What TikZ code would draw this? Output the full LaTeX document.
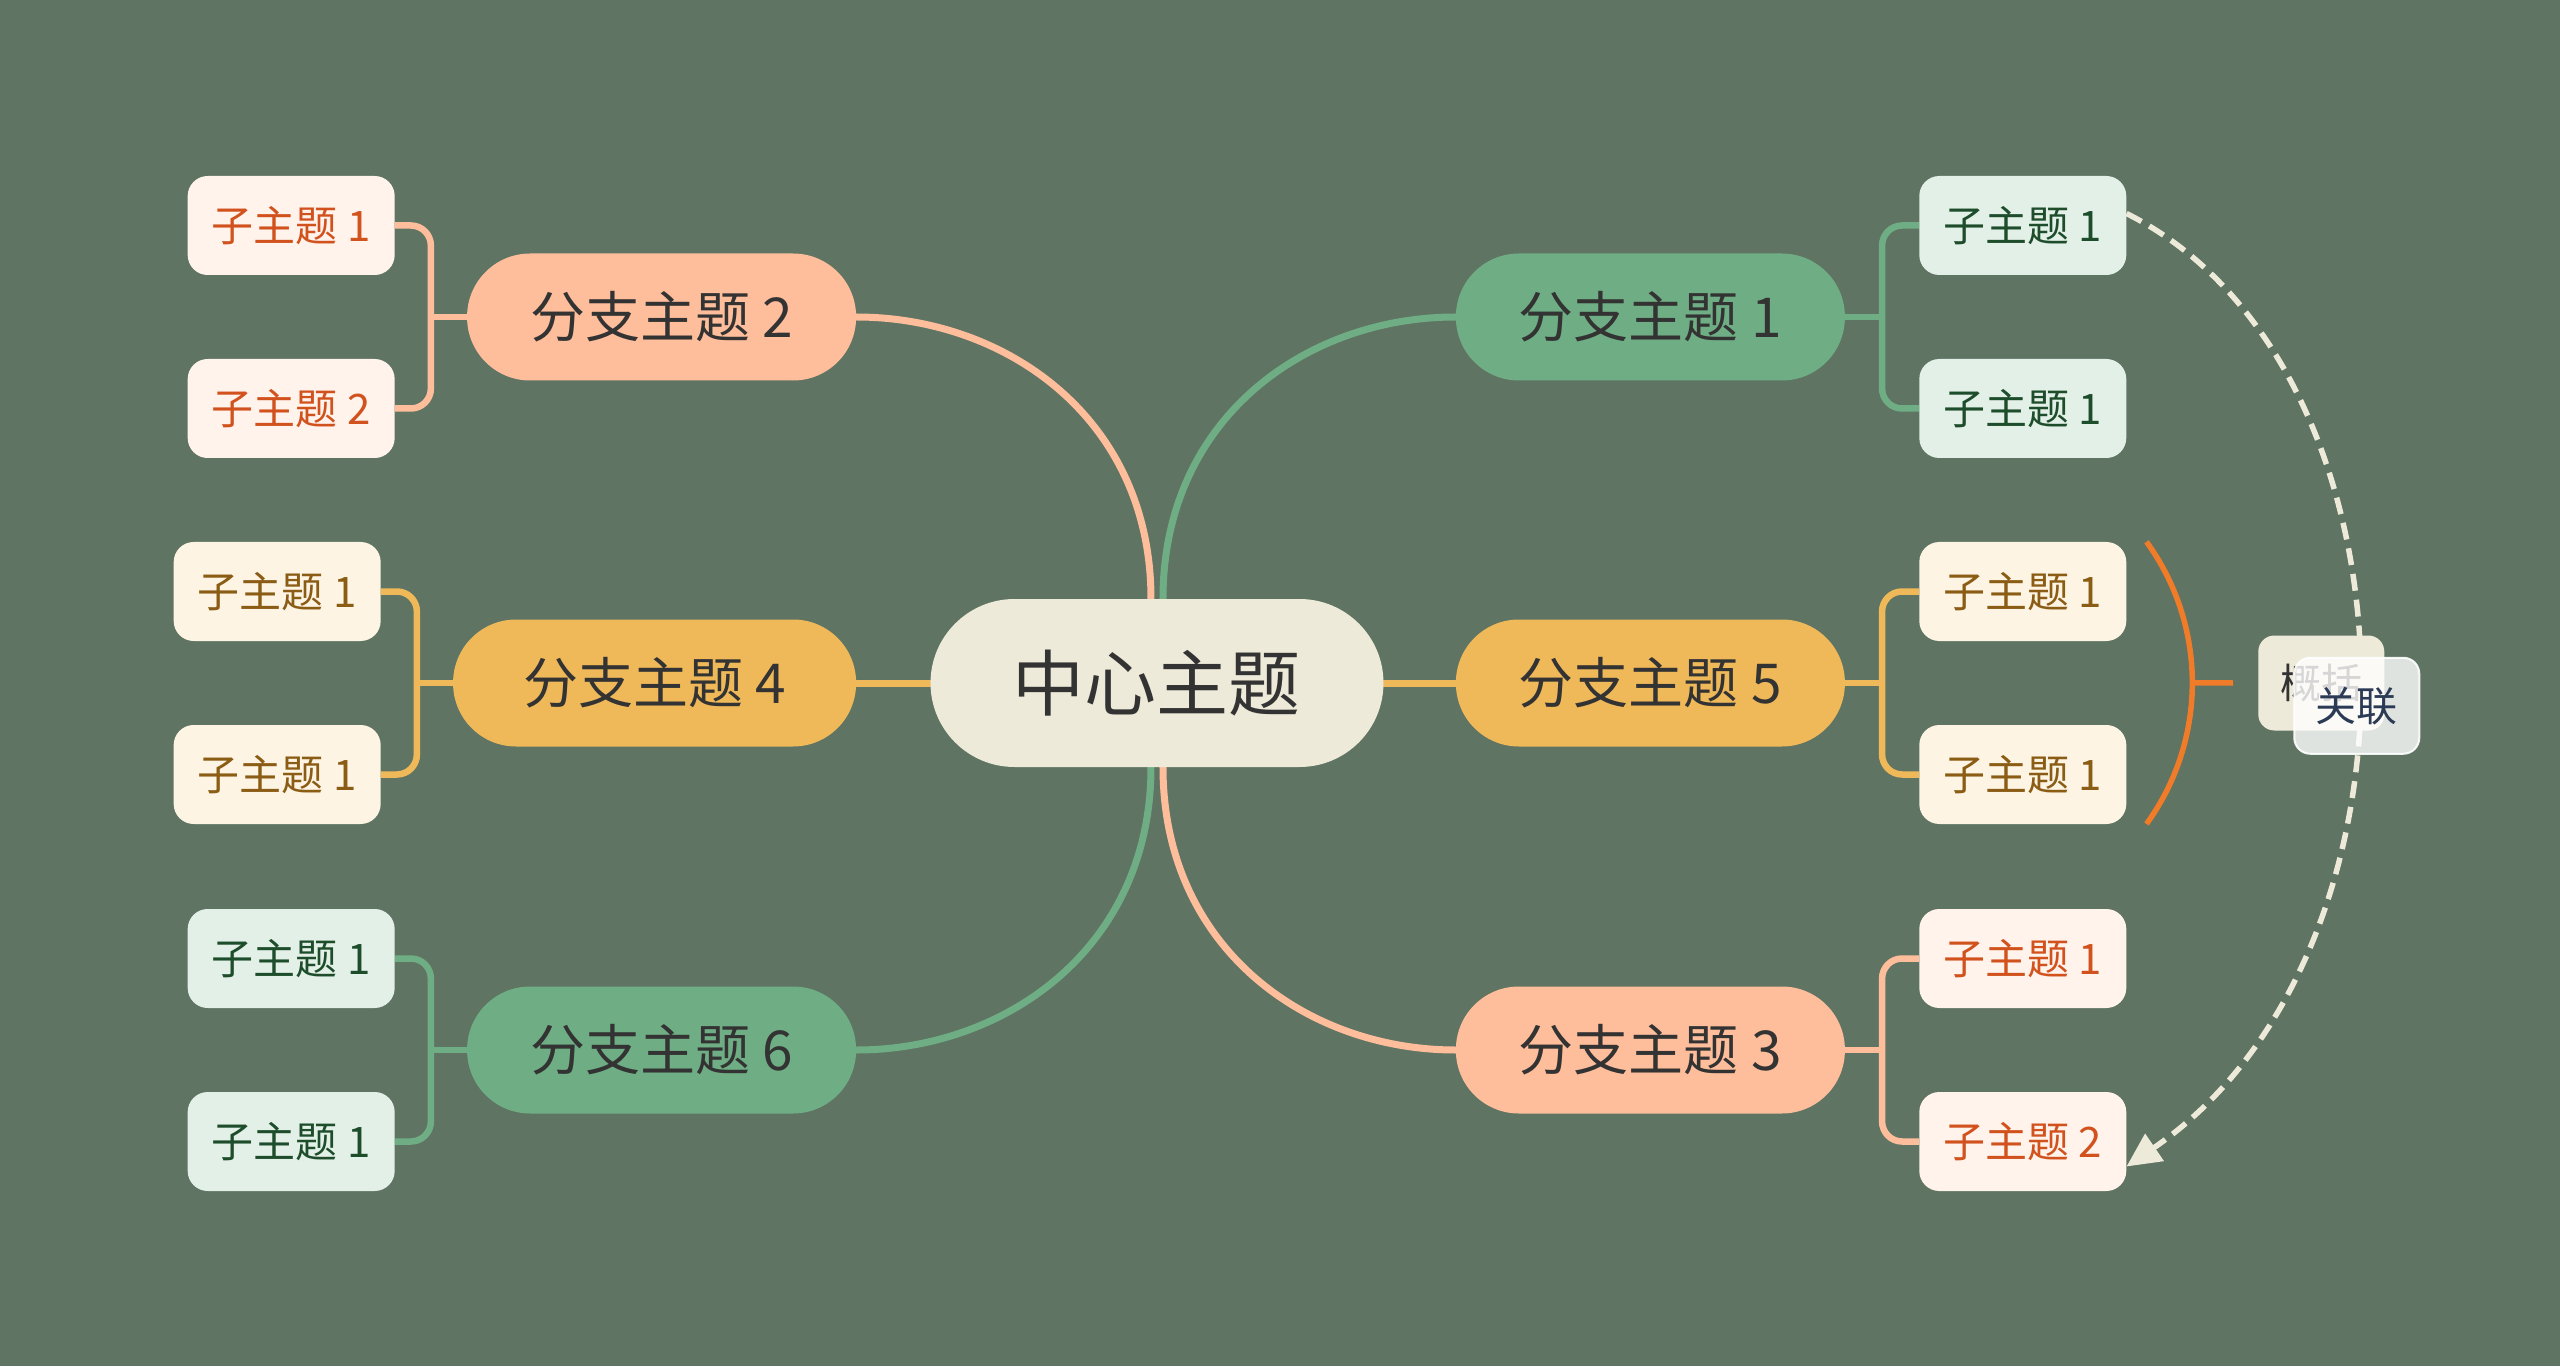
\documentclass[tikz,border=0pt]{standalone}
\usepackage{fontspec}
\setmainfont{Noto Sans CJK SC}
\usepackage{tikz}
\usetikzlibrary{arrows.meta,calc,positioning,backgrounds}
\definecolor{Board}{HTML}{5F7462}
\definecolor{Cream}{HTML}{EEEAD9}
\definecolor{Ink}{HTML}{333333}
\definecolor{Sage}{HTML}{6FAE84}
\definecolor{Peach}{HTML}{FFBE9B}
\definecolor{Amber}{HTML}{EFB95A}
\definecolor{SageLt}{HTML}{E3F0E7}
\definecolor{PeachLt}{HTML}{FFF3EC}
\definecolor{AmberLt}{HTML}{FDF4E4}
\definecolor{SageTx}{HTML}{1E4D2B}
\definecolor{PeachTx}{HTML}{D2521E}
\definecolor{AmberTx}{HTML}{8A5C14}
\definecolor{Flame}{HTML}{F07B28}
\definecolor{Navy}{HTML}{2B3A55}

\begin{document}
\begin{tikzpicture}[
    x=1pt, y=1pt,
    hub/.style={
      fill=Cream, text=Ink, rounded corners=84pt,
      minimum width=453pt, minimum height=168pt, inner sep=0pt,
      font=\fontsize{72}{80}\selectfont
    },
    branch/.style={
      text=Ink, rounded corners=63pt,
      minimum width=389pt, minimum height=127pt, inner sep=0pt,
      font=\fontsize{55}{62}\selectfont
    },
    leaf/.style={
      rounded corners=20pt,
      minimum width=207pt, minimum height=99pt, inner sep=0pt,
      font=\fontsize{42}{48}\selectfont
    },
    sageleaf/.style={leaf, fill=SageLt, text=SageTx},
    peachleaf/.style={leaf, fill=PeachLt, text=PeachTx},
    amberleaf/.style={leaf, fill=AmberLt, text=AmberTx},
    gkbox/.style={
      fill=Cream, text=Ink, rounded corners=16pt,
      minimum width=126pt, minimum height=95pt, inner sep=0pt,
      font=\fontsize{41}{46}\selectfont
    },
    relbox/.style={
      fill=white, fill opacity=0.8, draw=white, draw opacity=0.9,
      line width=2pt, text opacity=1, text=Navy, rounded corners=16pt,
      minimum width=125pt, minimum height=96pt, inner sep=0pt,
      font=\fontsize{41}{46}\selectfont
    },
    wire/.style={line width=7pt, line cap=round},
    twig/.style={line width=6.5pt, rounded corners=20pt},
    brace/.style={draw=Flame, line width=5.5pt},
    rel/.style={draw=Cream, line width=5.5pt, dash pattern=on 17pt off 9pt,
      -{Triangle[length=34pt,width=32pt]}}
  ]
    \useasboundingbox (-1157,-683) rectangle (1403,683);

    \node[hub] (hub) at (0,0) {中心主题};
    \node[branch,fill=Sage,right=72pt of hub,yshift=366pt] (b1) {分支主题 1};
    \node[branch,fill=Amber,right=72pt of hub] (b5) {分支主题 5};
    \node[branch,fill=Peach,right=72pt of hub,yshift=-367pt] (b3) {分支主题 3};
    \node[branch,fill=Peach,left=74pt of hub,yshift=366pt] (b2) {分支主题 2};
    \node[branch,fill=Amber,left=74pt of hub,minimum width=403pt] (b4) {分支主题 4};
    \node[branch,fill=Sage,left=74pt of hub,yshift=-367pt] (b6) {分支主题 6};

    \node[sageleaf,right=74pt of b1,yshift=91.5pt] (b1a) {子主题 1};
    \node[sageleaf,right=74pt of b1,yshift=-91.5pt] (b1b) {子主题 1};
    \node[amberleaf,right=74pt of b5,yshift=91.5pt] (b5a) {子主题 1};
    \node[amberleaf,right=74pt of b5,yshift=-91.5pt] (b5b) {子主题 1};
    \node[peachleaf,right=74pt of b3,yshift=91.5pt] (b3a) {子主题 1};
    \node[peachleaf,right=74pt of b3,yshift=-91.5pt] (b3b) {子主题 2};
    \node[peachleaf,left=72pt of b2,yshift=91.5pt] (b2a) {子主题 1};
    \node[peachleaf,left=72pt of b2,yshift=-91.5pt] (b2b) {子主题 2};
    \node[amberleaf,left=72pt of b4,yshift=91.5pt] (b4a) {子主题 1};
    \node[amberleaf,left=72pt of b4,yshift=-91.5pt] (b4b) {子主题 1};
    \node[sageleaf,left=72pt of b6,yshift=91.5pt] (b6a) {子主题 1};
    \node[sageleaf,left=72pt of b6,yshift=-91.5pt] (b6b) {子主题 1};

    \node[gkbox,right=413pt of b5] (gk) {概括};

    \begin{scope}[on background layer]
      \fill[Board] (-1157,-683) rectangle (1403,683);

      % hub to branches
      \draw[wire,Peach] ([xshift=-6pt]hub.north) .. controls +(0,180) and +(150,0) .. (b2.east);
      \draw[wire,Sage] ([xshift=6pt]hub.north) .. controls +(0,180) and +(-150,0) .. (b1.west);
      \draw[wire,Sage] ([xshift=-6pt]hub.south) .. controls +(0,-180) and +(150,0) .. (b6.east);
      \draw[wire,Peach] ([xshift=6pt]hub.south) .. controls +(0,-180) and +(-150,0) .. (b3.west);
      \draw[wire,Amber] (hub.west) -- (b4.east);
      \draw[wire,Amber] (hub.east) -- (b5.west);

      % branches to leaves
      \draw[twig,Sage] (b1.east) -- ++(37,0) coordinate (j1);
      \draw[twig,Sage] (b1a.west) -| (j1) |- (b1b.west);
      \draw[twig,Amber] (b5.east) -- ++(37,0) coordinate (j5);
      \draw[twig,Amber] (b5a.west) -| (j5) |- (b5b.west);
      \draw[twig,Peach] (b3.east) -- ++(37,0) coordinate (j3);
      \draw[twig,Peach] (b3a.west) -| (j3) |- (b3b.west);
      \draw[twig,Peach] (b2.west) -- ++(-36,0) coordinate (j2);
      \draw[twig,Peach] (b2a.east) -| (j2) |- (b2b.east);
      \draw[twig,Amber] (b4.west) -- ++(-36,0) coordinate (j4);
      \draw[twig,Amber] (b4a.east) -| (j4) |- (b4b.east);
      \draw[twig,Sage] (b6.west) -- ++(-36,0) coordinate (j6);
      \draw[twig,Sage] (b6a.east) -| (j6) |- (b6b.east);

      % summary brace
      \draw[brace] ([xshift=20pt]b5a.north east) arc[start angle=36,end angle=0,radius=240pt] coordinate (bm)
        arc[start angle=0,end angle=-36,radius=240pt];
      \draw[brace] (bm) -- ([xshift=-25pt]gk.west);

      % relation
      \draw[rel] ([yshift=12pt]b1a.east) .. controls +(300,-150) and +(316,216) .. ([yshift=-25pt]b3b.east)
        coordinate[pos=0.535] (rm);
    \end{scope}

    \node[relbox] (rl) at (rm) {关联};
  \end{tikzpicture}
\end{document}
